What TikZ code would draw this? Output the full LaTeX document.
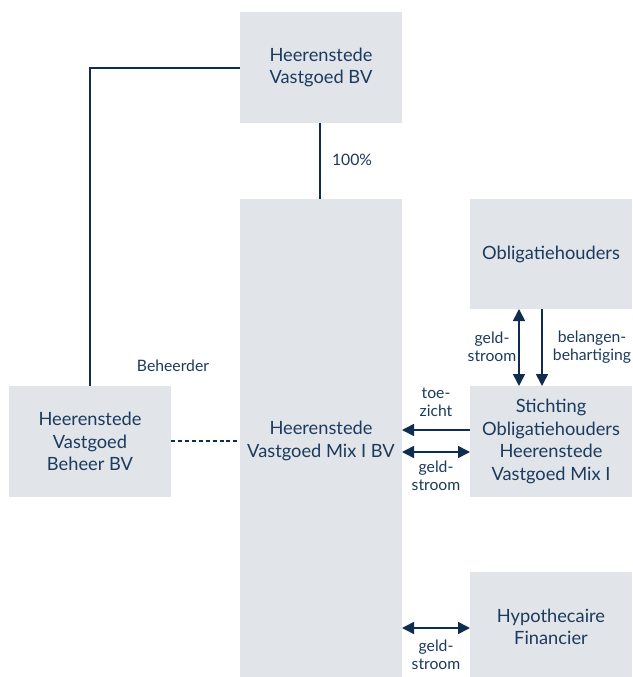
\documentclass[tikz,border=0pt]{standalone}
\usepackage{fontspec}
\setmainfont{Lato}
\usetikzlibrary{arrows.meta}
\definecolor{boxfill}{HTML}{E1E5EA}
\definecolor{ink}{HTML}{1B3A5C}
\definecolor{linec}{HTML}{0F2D4F}
\begin{document}
\begin{tikzpicture}[x=0.75pt,y=-0.75pt,
  box/.style={fill=boxfill,draw=none,text=ink,align=center,font=\fontsize{13.7pt}{17pt}\selectfont},
  lbl/.style={text=ink,align=center,font=\fontsize{11.8pt}{13.5pt}\selectfont,inner sep=0pt},
  conn/.style={draw=linec,line width=1.2pt},
  tip/.style={-{Triangle[length=9pt,width=9pt]}},
  dtip/.style={{Triangle[length=9pt,width=9pt]}-{Triangle[length=9pt,width=9pt]}}]
\useasboundingbox (0,0) rectangle (632,677);
% boxes
\path[fill=boxfill] (240,12) rectangle (402,123);
\node[box] (top) at (321,67.5) {Heerenstede\\Vastgoed BV};
\path[fill=boxfill] (240,199) rectangle (402,677);
\node[box] (mix) at (321,441) {Heerenstede\\Vastgoed Mix I BV};
\path[fill=boxfill] (470,199) rectangle (632,309);
\node[box] (obl) at (551,254) {Obligatiehouders};
\path[fill=boxfill] (470,386) rectangle (632,497);
\node[box] (sti) at (551,441.5) {Stichting\\Obligatiehouders\\Heerenstede\\Vastgoed Mix I};
\path[fill=boxfill] (470,572) rectangle (632,677);
\node[box] (hyp) at (551,627) {Hypothecaire\\Financier};
\path[fill=boxfill] (9,386) rectangle (171,497);
\node[box] (beh) at (90,441.5) {Heerenstede\\Vastgoed\\Beheer BV};
% named anchors on box edges
\coordinate (topB) at (320,123);
\coordinate (mixT) at (320,199);
\coordinate (topL) at (240,68);
\coordinate (behT) at (90,386);
\coordinate (behR) at (171,441);
\coordinate (mixL) at (240,441);
\coordinate (oblB1) at (519,309);
\coordinate (stiT1) at (519,386);
\coordinate (oblB2) at (542,309);
\coordinate (stiT2) at (542,386);
\coordinate (stiL1) at (470,430);
\coordinate (mixR1) at (402,430);
\coordinate (stiL2) at (470,452);
\coordinate (mixR2) at (402,452);
\coordinate (hypL) at (470,628);
\coordinate (mixR3) at (402,628);
% connectors
\draw[conn] (topB) -- (mixT);
\draw[conn] (behT) |- (topL);
\draw[conn,dashed,dash pattern=on 3pt off 2.2pt,line width=1pt] (behR) -- (mixL);
\draw[conn,dtip] (oblB1) -- (stiT1);
\draw[conn,tip] (oblB2) -- (stiT2);
\draw[conn,tip] (stiL1) -- (mixR1);
\draw[conn,dtip] (mixR2) -- (stiL2);
\draw[conn,dtip] (mixR3) -- (hypL);
% labels
\node[lbl] (l100) at (352,160) {100\%};
\node[lbl] (lbeh) at (173,366) {Beheerder};
\node[lbl] (lg1) at (492,347) {geld-\\stroom};
\node[lbl] (lbel) at (592,347) {belangen-\\behartiging};
\node[lbl] (ltoe) at (436,402) {toe-\\zicht};
\node[lbl] (lg2) at (436,476) {geld-\\stroom};
\node[lbl] (lg3) at (436,655) {geld-\\stroom};
\end{tikzpicture}
\end{document}
